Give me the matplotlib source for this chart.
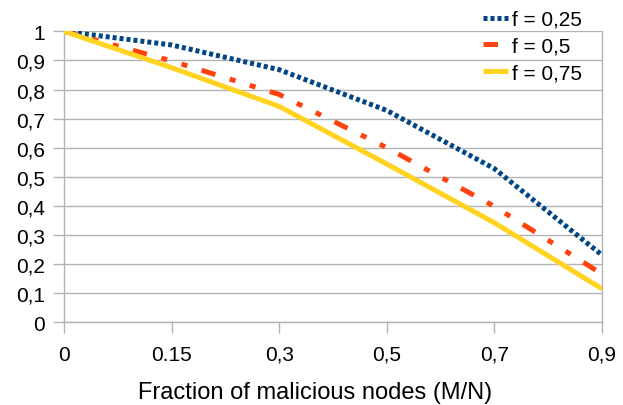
import numpy as np
import matplotlib
matplotlib.use("Agg")
import matplotlib.pyplot as plt

plt.rcParams['font.family'] = ['Liberation Sans', 'DejaVu Sans']

# fraction of malicious nodes (category labels as printed)
categories = ["0", "0.15", "0,3", "0,5", "0,7", "0,9"]

f_025 = [1.0, 0.953, 0.868, 0.728, 0.528, 0.231]
f_05 = [1.0, 0.898, 0.783, 0.600, 0.398, 0.166]
f_075 = [1.0, 0.875, 0.742, 0.544, 0.342, 0.115]

y_ticks = [0, 0.1, 0.2, 0.3, 0.4, 0.5, 0.6, 0.7, 0.8, 0.9, 1.0]
y_labels = ["0", "0,1", "0,2", "0,3", "0,4", "0,5", "0,6", "0,7", "0,8", "0,9", "1"]

grid_col = "#b3b3b3"

fig = plt.figure(figsize=(6.23, 4.06), dpi=100)
ax = fig.add_axes([64 / 623, 1 - 323.3 / 406, 538 / 623, 291 / 406])

lw = 3.6
ax.plot(categories, f_025, color="#004586", lw=lw, dashes=(0.8, 0.6),
        dash_capstyle="butt", label="f = 0,25", zorder=3)
ax.plot(categories, f_05, color="#ff420e", lw=lw, dashes=(2.9, 3, 1.2, 3, 1.2, 3),
        dash_capstyle="butt", label="f = 0,5", zorder=3)
ax.plot(categories, f_075, color="#ffd320", lw=lw, solid_capstyle="butt",
        label="f = 0,75", zorder=3)

ax.set_xlim(0, len(categories) - 1)
ax.set_ylim(0, 1)
ax.set_yticks(y_ticks)
ax.set_yticklabels(y_labels)
ax.yaxis.grid(True, color=grid_col, lw=1.0)
ax.set_axisbelow(True)

for s in ax.spines.values():
    s.set_color(grid_col)
    s.set_linewidth(1.0)
ax.spines['top'].set_visible(False)

ax.tick_params(axis='both', colors=grid_col, length=8, width=1.0,
               labelcolor="black", labelsize=15)
ax.tick_params(axis='y', pad=5.5)
ax.tick_params(axis='x', pad=8)
for t in ax.get_xticklabels() + ax.get_yticklabels():
    t.set_clip_on(False)

# label is centred on the figure rather than on the plot area
ax.set_xlabel("Fraction of malicious nodes (M/N)", fontsize=17, labelpad=12.5,
              x=(315 - 64) / 538)

fig.legend(loc="upper left", bbox_to_anchor=(483 / 623, 1 - 11 / 406),
           frameon=False, fontsize=15, handlelength=1.2, handletextpad=0.2,
           labelspacing=0.37, borderpad=0, borderaxespad=0)

fig.savefig("out.png", dpi=100)
